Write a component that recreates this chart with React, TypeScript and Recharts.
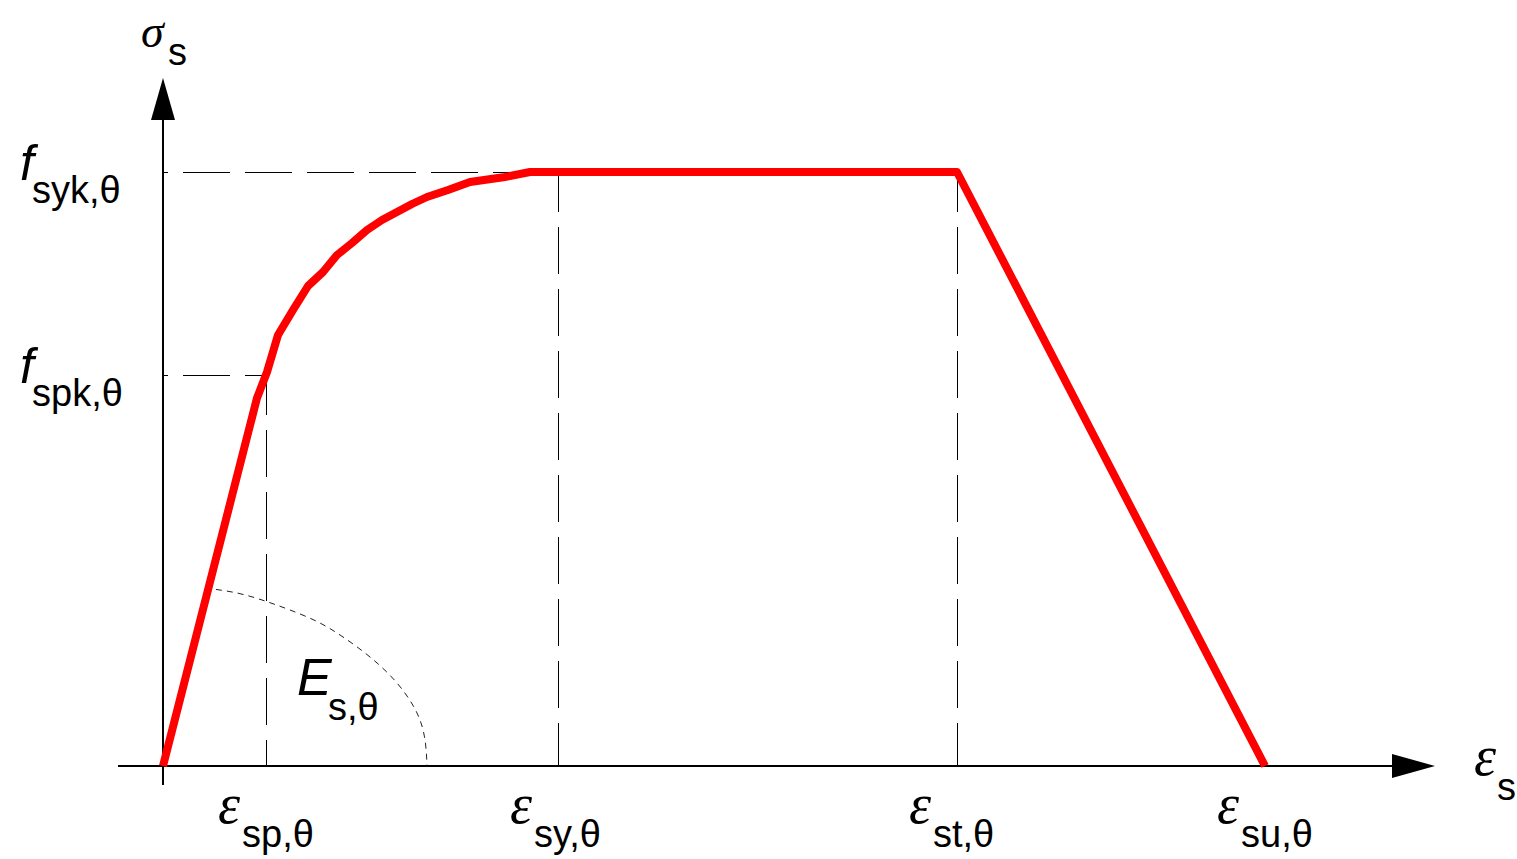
import React from 'react';
import { ComposedChart, Line, XAxis, YAxis, ReferenceLine, ReferenceDot } from 'recharts';

// Stress-strain relationship of steel at elevated temperature (schematic units)
const curveStrain = [0, 9.4, 10.4, 11.5, 13.0, 14.5, 16.0, 17.4, 18.9, 20.4, 21.9, 23.4, 24.9, 26.4, 28.5, 30.7, 34.2, 36.7, 79.4, 110.2];
const curveStress = [0, 36.8, 39.4, 43.1, 45.6, 48.0, 49.4, 51.1, 52.3, 53.6, 54.6, 55.4, 56.2, 56.9, 57.6, 58.4, 58.9, 59.4, 59.4, 0];

// Modulus arc (E_s,θ indicator)
const arcStrain = [4.2, 7.4, 10.2, 12.7, 15.5, 18.0, 20.7, 23.4, 25.4, 26.2, 26.4];
const arcStress = [17.8, 17.3, 16.5, 15.6, 14.4, 12.9, 10.9, 8.3, 5.3, 2.6, 0.1];

const strainTicks = [10.3, 39.5, 79.4, 110.2];
const strainTickLabels = ['sp,θ', 'sy,θ', 'st,θ', 'su,θ'];
const stressTicks = [39.1, 59.4];
const stressTickLabels = ['spk,θ', 'syk,θ'];

const eSp = 10.3;
const eSy = 39.5;
const eSt = 79.4;
const fSpk = 39.1;
const fSyk = 59.4;

const xDomain = [-4.5, 127.2];
const yDomain = [-1.9, 68.8];
const xArrowBase = 123.0;
const yArrowBase = 64.6;
const eLabelPos = { e: 13.4, s: 7.1 };

const curveData = curveStrain.map((e, i) => ({ e, s: curveStress[i] }));
const arcData = arcStrain.map((e, i) => ({ e, s: arcStress[i] }));

const SERIF = "'Liberation Serif', 'DejaVu Serif', serif";
const SANS = "'Liberation Sans', Arial, sans-serif";

const XTick = (props: any) => {
  const { x, y, payload } = props;
  const i = strainTicks.indexOf(payload.value);
  return (
    <g>
      <text x={x - 48} y={y + 38} fontFamily={SERIF} fontStyle="italic" fontSize={56} fill="#000">ε</text>
      <text x={x - 24} y={y + 62} fontFamily={SANS} fontSize={38} fill="#000">{strainTickLabels[i]}</text>
    </g>
  );
};

const YTick = (props: any) => {
  const { x, y, payload } = props;
  const i = stressTicks.indexOf(payload.value);
  return (
    <g>
      <text x={x - 98} y={y + 8} fontFamily={SANS} fontStyle="italic" fontSize={50} fill="#000">f</text>
      <text x={x - 86} y={y + 31} fontFamily={SANS} fontSize={38} fill="#000">{stressTickLabels[i]}</text>
    </g>
  );
};

const UpArrow = (props: any) => {
  const { cx, cy } = props;
  return (
    <g>
      <polygon points={`${cx},${cy} ${cx - 12},${cy + 42} ${cx + 12},${cy + 42}`} fill="#000" />
      <text x={cx - 22} y={cy - 31} fontFamily={SERIF} fontStyle="italic" fontSize={46} fill="#000">σ</text>
      <text x={cx + 5} y={cy - 13} fontFamily={SANS} fontSize={38} fill="#000">s</text>
    </g>
  );
};

const RightArrow = (props: any) => {
  const { cx, cy } = props;
  return (
    <g>
      <polygon points={`${cx},${cy} ${cx - 43},${cy - 12} ${cx - 43},${cy + 12}`} fill="#000" />
      <text x={cx + 39} y={cy + 9} fontFamily={SERIF} fontStyle="italic" fontSize={56} fill="#000">ε</text>
      <text x={cx + 62} y={cy + 34} fontFamily={SANS} fontSize={38} fill="#000">s</text>
    </g>
  );
};

const ELabel = (props: any) => {
  const { cx, cy } = props;
  return (
    <g>
      <text x={cx} y={cy} fontFamily={SANS} fontStyle="italic" fontSize={52} fill="#000">E</text>
      <text x={cx + 31} y={cy + 25} fontFamily={SANS} fontSize={38} fill="#000">s,θ</text>
    </g>
  );
};

const dash = '47 15';

export default function App() {
  return (
    <div style={{ position: 'absolute', left: 0, top: 0, width: 1517, height: 859, background: '#fff' }}>
      <ComposedChart width={1517} height={859} margin={{ top: 78, right: 82, bottom: 0, left: 0 }}>
        <XAxis
          type="number"
          dataKey="e"
          domain={xDomain}
          allowDataOverflow
          ticks={strainTicks}
          interval={0}
          axisLine={false}
          tickLine={false}
          tickSize={0}
          tickMargin={0}
          height={74}
          tick={<XTick />}
        />
        <YAxis
          type="number"
          domain={yDomain}
          allowDataOverflow
          ticks={stressTicks}
          interval={0}
          axisLine={false}
          tickLine={false}
          tickSize={0}
          tickMargin={0}
          width={118}
          tick={<YTick />}
        />
        <ReferenceLine segment={[{ x: 0, y: fSyk }, { x: eSy, y: fSyk }]} stroke="#000" strokeWidth={1} strokeDasharray={dash} strokeDashoffset={42} shapeRendering="crispEdges" ifOverflow="visible" />
        <ReferenceLine segment={[{ x: eSy, y: fSyk }, { x: eSy, y: 0 }]} stroke="#000" strokeWidth={1} strokeDasharray={dash} strokeDashoffset={7} shapeRendering="crispEdges" ifOverflow="visible" />
        <ReferenceLine segment={[{ x: eSt, y: fSyk }, { x: eSt, y: 0 }]} stroke="#000" strokeWidth={1} strokeDasharray={dash} strokeDashoffset={7} shapeRendering="crispEdges" ifOverflow="visible" />
        <ReferenceLine segment={[{ x: 0, y: fSpk }, { x: eSp, y: fSpk }]} stroke="#000" strokeWidth={1} strokeDasharray={dash} strokeDashoffset={42} shapeRendering="crispEdges" ifOverflow="visible" />
        <ReferenceLine segment={[{ x: eSp, y: fSpk }, { x: eSp, y: 0 }]} stroke="#000" strokeWidth={1} strokeDasharray={dash} strokeDashoffset={7} shapeRendering="crispEdges" ifOverflow="visible" />
        <ReferenceLine segment={[{ x: xDomain[0], y: 0 }, { x: xArrowBase, y: 0 }]} stroke="#000" strokeWidth={2} ifOverflow="visible" />
        <ReferenceLine segment={[{ x: 0, y: yDomain[0] }, { x: 0, y: yArrowBase }]} stroke="#000" strokeWidth={2} ifOverflow="visible" />
        <Line
          data={arcData}
          dataKey="s"
          type="natural"
          stroke="#222"
          strokeWidth={1}
          strokeDasharray="6 5"
          dot={false}
          activeDot={false}
          isAnimationActive={false}
        />
        <Line
          data={curveData}
          dataKey="s"
          type="linear"
          stroke="#ff0000"
          strokeWidth={8}
          strokeLinejoin="round"
          dot={false}
          activeDot={false}
          isAnimationActive={false}
        />
        <ReferenceDot x={0} y={yDomain[1]} r={0} ifOverflow="visible" shape={<UpArrow />} />
        <ReferenceDot x={xDomain[1]} y={0} r={0} ifOverflow="visible" shape={<RightArrow />} />
        <ReferenceDot x={eLabelPos.e} y={eLabelPos.s} r={0} ifOverflow="visible" shape={<ELabel />} />
      </ComposedChart>
    </div>
  );
}
